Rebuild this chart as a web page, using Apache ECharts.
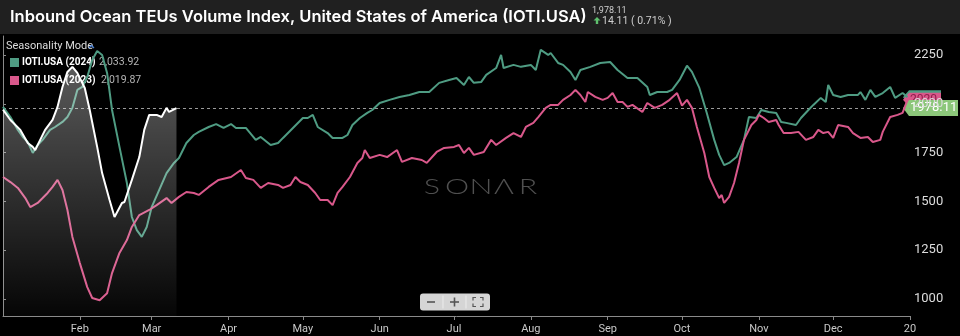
<!DOCTYPE html>
<html><head><meta charset="utf-8">
<script src="https://cdn.jsdelivr.net/npm/echarts@6/dist/echarts.min.js"></script>
<style>html,body{margin:0;padding:0;background:#000;}#c{width:960px;height:336px;}</style>
</head><body><div id="c"></div>
<script>
// ---- data (day of year index, Jan 1 = 0) ----
const days2024 = [0,3,6,8,10,12,14,16,19,21,24,26,28,30,32,34,36,38,40,42,44,47,50,52,54,56,58,60,63,66,69,71,74,77,79,83,86,89,92,94,98,102,104,108,111,113,117,121,123,125,127,131,133,137,139,141,144,147,149,152,156,160,164,168,172,176,180,183,186,188,190,193,195,199,201,202,206,209,213,215,217,220,221,224,226,229,231,233,237,241,245,248,252,256,260,261,264,268,270,273,276,278,281,284,287,289,291,293,296,299,301,304,306,309,312,314,316,320,322,325,327,330,332,333,335,338,341,345,346,348,350,352,355,358,360,363,365];
const iotiUsa2024 = [1984,1932,1866,1830,1804,1748,1789,1815,1866,1881,1907,1932,1979,2071,2086,2137,2224,2270,2250,2158,1968,1779,1594,1420,1353,1318,1369,1471,1558,1645,1697,1722,1799,1840,1856,1881,1896,1876,1896,1876,1876,1815,1830,1789,1799,1825,1876,1927,1927,1943,1881,1850,1825,1825,1840,1891,1927,1953,1968,2004,2020,2035,2045,2060,2060,2107,2122,2132,2096,2137,2107,2112,2148,2183,2250,2183,2199,2189,2199,2173,2276,2250,2260,2209,2199,2163,2122,2173,2189,2209,2214,2173,2132,2132,2086,2045,2060,2060,2071,2122,2195,2163,2081,1953,1815,1738,1686,1697,1727,1815,1932,1927,1968,1958,1953,1907,1902,1891,1927,1968,1994,2030,2009,2096,2045,2035,2045,2045,2060,2020,2071,2035,2055,2086,2030,2055,2033.92];

const days2023 = [0,3,6,9,11,14,16,18,20,22,24,26,28,31,34,36,39,42,44,47,50,52,55,59,62,66,68,71,74,77,79,83,87,92,96,98,101,104,107,111,113,116,118,120,123,126,128,131,133,135,137,140,143,145,146,148,152,155,159,161,165,169,171,175,178,182,184,186,188,190,194,197,199,203,206,209,211,214,216,219,221,224,226,229,231,233,235,236,239,242,244,246,248,250,252,254,258,260,263,266,269,272,274,276,278,280,283,285,287,289,290,291,293,295,297,299,302,304,305,307,309,312,313,315,318,321,324,327,329,331,333,335,337,341,343,346,349,351,354,355,358,361,363,365];
const iotiUsa2023 = [1625,1599,1569,1517,1471,1492,1517,1543,1574,1610,1558,1456,1318,1184,1061,1005,994,1030,1133,1236,1302,1369,1430,1456,1481,1517,1492,1523,1548,1543,1533,1574,1610,1625,1661,1620,1610,1569,1594,1584,1569,1584,1625,1599,1584,1543,1507,1507,1481,1543,1574,1625,1697,1722,1763,1722,1738,1727,1763,1702,1722,1712,1697,1753,1774,1779,1789,1748,1774,1738,1753,1815,1789,1825,1850,1830,1881,1902,1932,1979,1994,1994,2020,2045,2071,2045,2009,2060,2035,2020,2030,2055,2009,2009,1984,1994,1958,2004,1979,1994,2020,2055,1990,2020,1979,1881,1748,1625,1569,1517,1533,1492,1523,1594,1697,1815,1891,1917,1943,1927,1907,1917,1891,1850,1850,1856,1815,1830,1866,1850,1856,1825,1891,1881,1850,1825,1830,1804,1815,1856,1932,1943,1953,2019.87];

const days2025 = [0,3,7,10,12,13,15,17,20,22,24,26,28,30,33,35,38,40,43,45,48,49,52,55,57,59,62,64,66,67,70];
const iotiUsa2025 = [1970,1917,1866,1799,1779,1763,1815,1866,1917,1984,2086,2163,2189,2158,2081,1968,1779,1645,1507,1420,1492,1497,1610,1727,1866,1943,1943,1932,1979,1958,1978.11];

const monthTickDays = [31,60,91,121,152,182,213,244,274,305,335,366];
const monthLabels = ['Feb','Mar','Apr','May','Jun','Jul','Aug','Sep','Oct','Nov','Dec','20'];
const yTickValues = [1000,1250,1500,1750,2000,2250];

const titleText = 'Inbound Ocean TEUs Volume Index, United States of America (IOTI.USA)';
const lastValue = 1978.11;
const lastValueText = '1,978.11';
const changeText = '14.11 ( 0.71% )';
const legendNames = ['IOTI.USA (2024)', 'IOTI.USA (2023)'];
const legendValues = ['2,033.92', '2,019.87'];
const lastValue2024 = 2033.92;
const lastValue2023 = 2019.87;
const tag2024Text = '2034';
const tag2023Text = '2020';
const tagLastText = '1978.11';
const watermarkLetters = ['S', 'O', 'N', 'Λ', 'R'];

// ---- styles ----
const C_GREEN = '#4f9c83';
const C_PINK = '#d9588b';
const C_WHITE = '#ffffff';
const C_TAG = '#8cc77a';

const zip = (xs, ys) => xs.map((x, i) => [x, ys[i]]);

const chart = echarts.init(document.getElementById('c'), null, {renderer: 'canvas'});

const toolbarX = 420, toolbarY = 293;
function corner(x, y, dx, dy) {
  return {type: 'polyline', shape: {points: [[x, y + dy], [x, y], [x + dx, y]]}, style: {stroke: '#555', lineWidth: 1.2, fill: null}};
}
const wmCenters = [432, 457, 481, 504, 528];

const baseGraphics = [
  {type: 'rect', left: 0, top: 0, shape: {width: 960, height: 34}, style: {fill: '#202020'}, z: 0, silent: true},
  {type: 'text', left: 10, top: 9, style: {text: titleText, fill: '#ffffff', font: '600 16.5px Inter'}},
  {type: 'text', left: 592, top: 6, style: {text: lastValueText, fill: '#cfcfcf', font: '9px Roboto'}},
  {type: 'polygon', shape: {points: [[597, 17], [600.5, 20.5], [598.2, 20.5], [598.2, 24], [595.8, 24], [595.8, 20.5], [593.5, 20.5]]}, style: {fill: '#5fc06e'}},
  {type: 'text', left: 602, top: 16, style: {text: changeText, fill: '#cfcfcf', font: '10.5px Roboto'}},
  // legend
  {type: 'text', left: 6, top: 41, style: {text: 'Seasonality Mode', fill: '#dddddd', font: '11px Roboto'}},
  {type: 'polyline', shape: {points: [[89, 48], [91.5, 45.5], [94, 48]]}, style: {stroke: '#4a7fd0', lineWidth: 1.3, fill: null}},
  {type: 'rect', left: 10, top: 58, shape: {width: 9, height: 9}, style: {fill: C_GREEN}},
  {type: 'text', x: 22, y: 62.5, style: {text: legendNames[0], fill: '#ffffff', font: 'bold 10px Roboto', verticalAlign: 'middle'}},
  {type: 'text', x: 99, y: 62.5, style: {text: legendValues[0], fill: '#b5b5b5', font: '10.5px Roboto', verticalAlign: 'middle'}},
  {type: 'rect', left: 10, top: 76, shape: {width: 9, height: 9}, style: {fill: C_PINK}},
  {type: 'text', x: 22, y: 80.5, style: {text: legendNames[1], fill: '#ffffff', font: 'bold 10px Roboto', verticalAlign: 'middle'}},
  {type: 'text', x: 101, y: 80.5, style: {text: legendValues[1], fill: '#b5b5b5', font: '10.5px Roboto', verticalAlign: 'middle'}},
  // watermark
  {type: 'group', z: 1, children: watermarkLetters.map((ch, i) => ({
    type: 'text', x: wmCenters[i], y: 187, scaleX: 1.45,
    style: {text: ch, fill: '#505050', font: '300 21px Lato', align: 'center', verticalAlign: 'middle'}
  }))},
  // toolbar
  {type: 'group', left: toolbarX, top: toolbarY, children: [
    {type: 'rect', shape: {x: 0, y: 0, width: 70, height: 17, r: 3}, style: {fill: '#d5d5d5'}},
    {type: 'line', shape: {x1: 23, y1: 2, x2: 23, y2: 15}, style: {stroke: '#ececec', lineWidth: 1}},
    {type: 'line', shape: {x1: 46, y1: 2, x2: 46, y2: 15}, style: {stroke: '#ececec', lineWidth: 1}},
    {type: 'line', shape: {x1: 7, y1: 8.5, x2: 15, y2: 8.5}, style: {stroke: '#555', lineWidth: 1.6}},
    {type: 'line', shape: {x1: 30, y1: 8.5, x2: 39, y2: 8.5}, style: {stroke: '#555', lineWidth: 1.6}},
    {type: 'line', shape: {x1: 34.5, y1: 4, x2: 34.5, y2: 13}, style: {stroke: '#555', lineWidth: 1.6}},
    corner(53, 4, 3, 3), corner(63, 4, -3, 3), corner(53, 13, 3, -3), corner(63, 13, -3, -3)
  ]}
];

chart.setOption({
  backgroundColor: '#000',
  animation: false,
  grid: {left: 3, right: 50, top: 36, bottom: 20, containLabel: false},
  xAxis: {
    type: 'value', min: 0, max: 366,
    axisLine: {show: true, lineStyle: {color: '#8a8a8a', width: 1}},
    axisTick: {show: true, customValues: monthTickDays, length: 4, lineStyle: {color: '#8a8a8a'}},
    axisLabel: {
      customValues: monthTickDays, color: '#c8c8c8', fontSize: 11, fontFamily: 'Roboto', margin: 8,
      formatter: v => monthLabels[monthTickDays.indexOf(v)]
    },
    splitLine: {show: false}
  },
  yAxis: {
    type: 'value', position: 'right', min: 913, max: 2347,
    axisLine: {show: true, lineStyle: {color: '#8a8a8a', width: 1}},
    axisTick: {show: true, customValues: yTickValues, length: 3, lineStyle: {color: '#8a8a8a'}},
    axisLabel: {customValues: yTickValues, color: '#dcdcdc', fontSize: 13, fontFamily: 'Roboto', margin: 4,
      formatter: v => String(v)},
    splitLine: {show: false}
  },
  series: [
    {
      name: legendNames[0], type: 'line', data: zip(days2024, iotiUsa2024), showSymbol: false, z: 2,
      lineStyle: {color: C_GREEN, width: 2}, itemStyle: {color: C_GREEN}
    },
    {
      name: legendNames[1], type: 'line', data: zip(days2023, iotiUsa2023), showSymbol: false, z: 3,
      lineStyle: {color: C_PINK, width: 2}, itemStyle: {color: C_PINK}
    },
    {
      name: '2025', type: 'line', data: zip(days2025, iotiUsa2025), showSymbol: false, z: 4,
      lineStyle: {color: C_WHITE, width: 2}, itemStyle: {color: C_WHITE},
      areaStyle: {
        color: new echarts.graphic.LinearGradient(0, 0, 0, 1, [
          {offset: 0, color: 'rgba(255,255,255,0.50)'},
          {offset: 1, color: 'rgba(255,255,255,0.03)'}
        ])
      },
      markLine: {
        silent: true, symbol: 'none', z: 1,
        lineStyle: {color: '#9a9a9a', type: [3, 3], width: 1},
        label: {show: false},
        data: [{yAxis: lastValue}]
      }
    }
  ],
  graphic: baseGraphics
});

// price tags on the right axis, placed through the y-axis scale
function tag(value, text, bg, fg, width, h, fontSize) {
  const y = chart.convertToPixel({yAxisIndex: 0}, value);
  const x0 = 903;
  return {
    type: 'group', z: 50, children: [
      {type: 'polygon', shape: {points: [[x0, y], [x0 + 6, y - h / 2], [x0 + width, y - h / 2], [x0 + width, y + h / 2], [x0 + 6, y + h / 2]]},
        style: {fill: bg}},
      {type: 'text', x: x0 + 7, y: y, style: {text: text, fill: fg, font: fontSize + 'px Roboto', verticalAlign: 'middle'}}
    ]
  };
}
chart.setOption({
  graphic: baseGraphics.concat([
    tag(lastValue2024, tag2024Text, C_GREEN, C_GREEN, 38, 14, 12),
    tag(lastValue2023, tag2023Text, C_PINK, '#8e1f4c', 38, 14, 12),
    tag(lastValue, tagLastText, C_TAG, '#ffffff', 55, 16, 13)
  ])
});
</script></body></html>
